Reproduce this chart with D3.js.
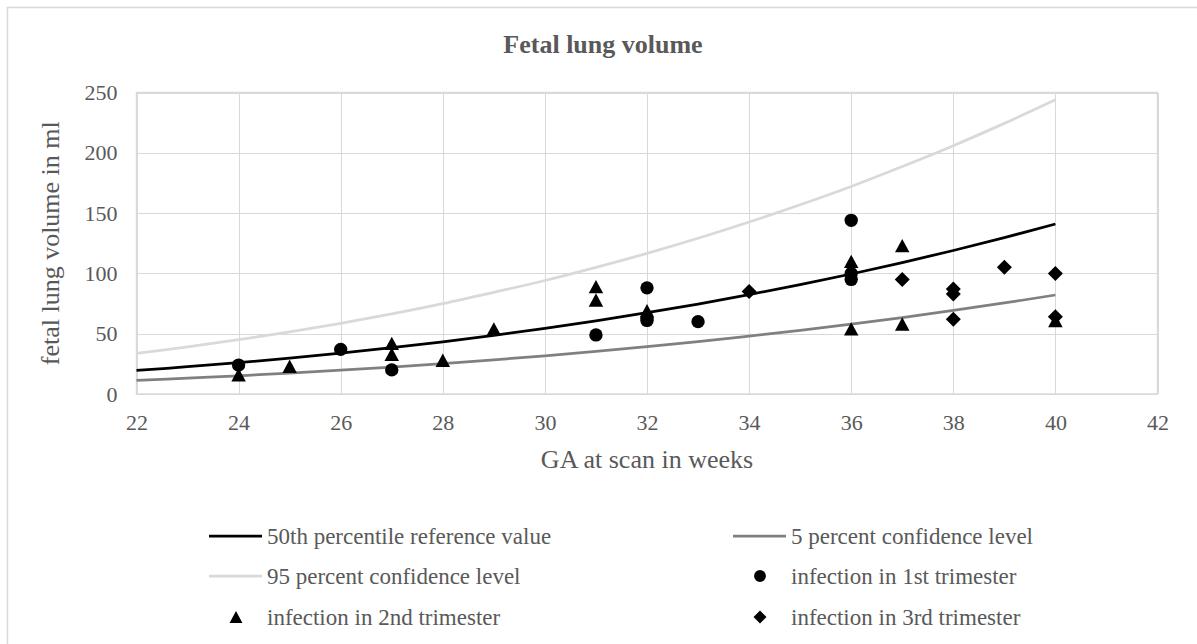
<!DOCTYPE html>
<html lang="en">
<head>
<meta charset="UTF-8">
<title>Fetal lung volume</title>
<style>
body {
  margin: 0;
  background: #fff;
}
svg text {
  font-family: "Liberation Serif", "Times New Roman", serif;
  fill: #595959;
}
.grid line {
  stroke: #d9d9d9;
  stroke-width: 1;
  shape-rendering: crispEdges;
}
.grid path {
  display: none;
}
</style>
</head>
<body>
<div id="chart"></div>
<script src="https://cdnjs.cloudflare.com/ajax/libs/d3/7.8.5/d3.min.js"></script>
<script>
// reference curves at every week
var refWeeks = [22, 23, 24, 25, 26, 27, 28, 29, 30, 31, 32, 33, 34, 35, 36, 37, 38, 39, 40];
var p50 = [19.5, 22.6, 26.0, 29.8, 33.9, 38.4, 43.3, 48.7, 54.4, 60.7, 67.4, 74.6, 82.4, 90.7, 99.5, 109.0, 119.0, 129.7, 141.0];
var p5 = [11.3, 13.2, 15.1, 17.3, 19.7, 22.3, 25.2, 28.3, 31.7, 35.3, 39.2, 43.4, 48.0, 52.8, 57.9, 63.4, 69.3, 75.5, 82.1];
var p95 = [33.7, 39.1, 45.0, 51.6, 58.6, 66.4, 74.9, 84.3, 94.1, 105.0, 116.6, 129.1, 142.6, 156.9, 172.1, 188.6, 205.9, 224.4, 243.9];

// patients
var trim1Weeks = [24, 26, 27, 31, 32, 32, 32, 33, 36, 36, 36];
var trim1Vol = [24, 37, 20, 49, 88, 63, 61, 60, 144, 100, 95];
var trim2Weeks = [24, 25, 27, 27, 28, 29, 31, 31, 32, 36, 36, 37, 37, 40];
var trim2Vol = [16, 23, 42, 33, 28, 54, 89, 78, 69, 110, 54, 123, 58, 61];
var trim3Weeks = [34, 37, 38, 38, 38, 39, 40, 40];
var trim3Vol = [85, 95, 87, 83, 62, 105, 100, 64];

var xTicks = [22, 24, 26, 28, 30, 32, 34, 36, 38, 40, 42];
var yTicks = [0, 50, 100, 150, 200, 250];

var W = 1197, H = 644;
var plotLeft = 136.5, plotRight = 1157.5, plotTop = 92.5, plotBottom = 394;

var x = d3.scaleLinear().domain([22, 42]).range([plotLeft, plotRight]);
var y = d3.scaleLinear().domain([0, 250]).range([plotBottom, plotTop]);

var svg = d3.select('#chart').append('svg')
  .attr('width', W)
  .attr('height', H);

// chart border
svg.append('rect')
  .attr('x', 7.5).attr('y', 7.5)
  .attr('width', W).attr('height', H)
  .attr('fill', '#fff')
  .attr('stroke', '#d9d9d9')
  .attr('stroke-width', 1.5);

svg.append('text')
  .attr('x', 603).attr('y', 53)
  .attr('text-anchor', 'middle')
  .style('font-size', '26px')
  .style('font-weight', 'bold')
  .text('Fetal lung volume');

// gridlines + tick labels
var yAxis = svg.append('g')
  .attr('class', 'grid')
  .attr('transform', 'translate(' + plotLeft + ',0)')
  .call(d3.axisLeft(y).tickValues(yTicks).tickSize(-(plotRight - plotLeft)).tickPadding(19));
yAxis.selectAll('text')
  .attr('fill', null)
  .style('font-size', '22px')
  .style('font-family', '"Liberation Serif", "Times New Roman", serif');

var xAxis = svg.append('g')
  .attr('class', 'grid')
  .attr('transform', 'translate(0,' + plotBottom + ')')
  .call(d3.axisBottom(x).tickValues(xTicks).tickSize(-(plotBottom - plotTop)));
xAxis.selectAll('text')
  .attr('fill', null)
  .attr('y', 36)
  .attr('dy', 0)
  .style('font-size', '22px')
  .style('font-family', '"Liberation Serif", "Times New Roman", serif');

svg.append('rect')
  .attr('x', plotLeft).attr('y', plotTop)
  .attr('width', plotRight - plotLeft).attr('height', plotBottom - plotTop)
  .attr('fill', 'none')
  .attr('stroke', '#d9d9d9')
  .attr('stroke-width', 1.5);

// axis titles
svg.append('text')
  .attr('x', (plotLeft + plotRight) / 2).attr('y', 468)
  .attr('text-anchor', 'middle')
  .style('font-size', '26px')
  .text('GA at scan in weeks');

svg.append('text')
  .attr('transform', 'translate(59,' + ((plotTop + plotBottom) / 2) + ') rotate(-90)')
  .attr('text-anchor', 'middle')
  .style('font-size', '26px')
  .text('fetal lung volume in ml');

// curves
var curves = [
  { vals: p50, color: '#000000' },
  { vals: p5, color: '#808080' },
  { vals: p95, color: '#d9d9d9' }
];
var line = d3.line()
  .x(function (d, i) { return x(refWeeks[i]); })
  .y(function (d) { return y(d); })
  .curve(d3.curveCatmullRom);

svg.selectAll('.curve')
  .data(curves)
  .enter().append('path')
  .attr('class', 'curve')
  .attr('d', function (d) { return line(d.vals); })
  .attr('fill', 'none')
  .attr('stroke', function (d) { return d.color; })
  .attr('stroke-width', 2.75);

// marker shapes, centred on their bounding box
var triangleType = {
  draw: function (ctx, size) {
    var r = Math.sqrt(size) / 2;
    ctx.moveTo(0, -r);
    ctx.lineTo(r * 1.08, r);
    ctx.lineTo(-r * 1.08, r);
    ctx.closePath();
  }
};
var diamondType = {
  draw: function (ctx, size) {
    var r = Math.sqrt(size) / 2;
    ctx.moveTo(0, -r);
    ctx.lineTo(r, 0);
    ctx.lineTo(0, r);
    ctx.lineTo(-r, 0);
    ctx.closePath();
  }
};

var groups = [
  { weeks: trim1Weeks, vols: trim1Vol, type: d3.symbolCircle, size: 140 },
  { weeks: trim2Weeks, vols: trim2Vol, type: triangleType, size: 180 },
  { weeks: trim3Weeks, vols: trim3Vol, type: diamondType, size: 225 }
];

groups.forEach(function (g) {
  svg.append('g').selectAll('path')
    .data(g.vols)
    .enter().append('path')
    .attr('d', d3.symbol().type(g.type).size(g.size))
    .attr('transform', function (d, i) {
      return 'translate(' + x(g.weeks[i]) + ',' + y(d) + ')';
    })
    .attr('fill', '#000');
});

// legend
var legendItems = [
  { label: '50th percentile reference value', color: '#000000', col: 0, row: 0 },
  { label: '5 percent confidence level', color: '#808080', col: 1, row: 0 },
  { label: '95 percent confidence level', color: '#d9d9d9', col: 0, row: 1 },
  { label: 'infection in 1st trimester', type: d3.symbolCircle, size: 110, col: 1, row: 1 },
  { label: 'infection in 2nd trimester', type: triangleType, size: 144, col: 0, row: 2 },
  { label: 'infection in 3rd trimester', type: diamondType, size: 169, col: 1, row: 2 }
];
var colX = [209, 733];
var rowY = [536, 576, 617];

var legend = svg.selectAll('.legend')
  .data(legendItems)
  .enter().append('g')
  .attr('class', 'legend')
  .attr('transform', function (d) {
    return 'translate(' + colX[d.col] + ',' + rowY[d.row] + ')';
  });

legend.filter(function (d) { return !d.type; })
  .append('line')
  .attr('x1', 0).attr('x2', 53)
  .attr('stroke', function (d) { return d.color; })
  .attr('stroke-width', 2.75);

legend.filter(function (d) { return d.type; })
  .append('path')
  .attr('d', function (d) { return d3.symbol().type(d.type).size(d.size)(); })
  .attr('transform', 'translate(27,0)')
  .attr('fill', '#000');

legend.append('text')
  .attr('x', 58)
  .attr('dy', '0.33em')
  .style('font-size', '23px')
  .text(function (d) { return d.label; });
</script>
</body>
</html>
